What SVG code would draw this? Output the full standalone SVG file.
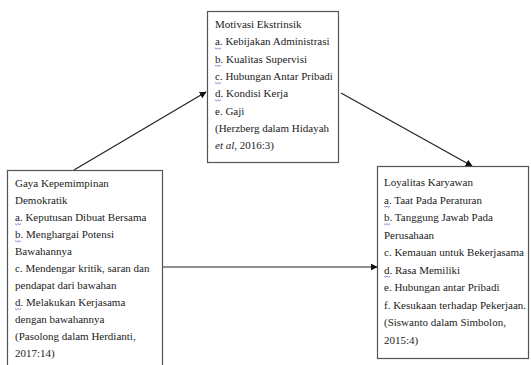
<svg xmlns="http://www.w3.org/2000/svg" width="531" height="365" viewBox="0 0 531 365">
<style>
.box{fill:#fff;stroke:#555;stroke-width:1.2}
.t{font-family:"Liberation Serif","Times New Roman",serif;font-size:11px;fill:#222}
.sq{fill:none;stroke:#6a6ac0;stroke-width:0.8}
.con{stroke:#222;stroke-width:1.2;fill:none}
</style>
<defs>
<marker id="ah" viewBox="0 0 10 10" refX="9" refY="5" markerWidth="7" markerHeight="7" orient="auto" markerUnits="userSpaceOnUse">
<path d="M0,0 L10,5 L0,10 z" fill="#111"/>
</marker>
</defs>
<rect width="531" height="365" fill="#fff"/>
<g id="connectors">
<line class="con" x1="74" y1="170" x2="206" y2="92" marker-end="url(#ah)"/>
<line class="con" x1="341" y1="93" x2="472" y2="166" marker-end="url(#ah)"/>
<line class="con" x1="163" y1="267" x2="377" y2="267" marker-end="url(#ah)"/>
</g>
<g id="motivasi">
<rect class="box" x="207.5" y="11.5" width="131" height="151"/>
<text class="t" x="215" y="28">Motivasi Ekstrinsik</text>
<text class="t" x="215" y="45.3">a. Kebijakan Administrasi</text>
<text class="t" x="215" y="62.6">b. Kualitas Supervisi</text>
<text class="t" x="215" y="79.9">c. Hubungan Antar Pribadi</text>
<text class="t" x="215" y="97.2">d. Kondisi Kerja</text>
<text class="t" x="215" y="114.5">e. Gaji</text>
<text class="t" x="215" y="131.8">(Herzberg dalam Hidayah</text>
<text class="t" x="215" y="149.1"><tspan font-style="italic">et al</tspan>, 2016:3)</text>
<path class="sq" d="M215,48 l1.5,1 l1.5,-1 l1.5,1 l1.5,-1 M215,65.3 l1.5,1 l1.5,-1 l1.5,1 l1.5,-1 M215,82.6 l1.5,1 l1.5,-1 l1.5,1 l1.5,-1 M215,99.9 l1.5,1 l1.5,-1 l1.5,1 l1.5,-1"/>
</g>
<g id="gaya">
<rect class="box" x="7.5" y="170.5" width="155" height="200"/>
<text class="t" x="15" y="187">Gaya Kepemimpinan</text>
<text class="t" x="15" y="204">Demokratik</text>
<text class="t" x="15" y="221">a. Keputusan Dibuat Bersama</text>
<text class="t" x="15" y="238">b. Menghargai Potensi</text>
<text class="t" x="15" y="255">Bawahannya</text>
<text class="t" x="15" y="272">c. Mendengar kritik, saran dan</text>
<text class="t" x="15" y="289">pendapat dari bawahan</text>
<text class="t" x="15" y="306">d. Melakukan Kerjasama</text>
<text class="t" x="15" y="323">dengan bawahannya</text>
<text class="t" x="15" y="340">(Pasolong dalam Herdianti,</text>
<text class="t" x="15" y="357">2017:14)</text>
<path class="sq" d="M15,223.7 l1.5,1 l1.5,-1 l1.5,1 l1.5,-1 M15,240.7 l1.5,1 l1.5,-1 l1.5,1 l1.5,-1 M15,308.7 l1.5,1 l1.5,-1 l1.5,1 l1.5,-1"/>
</g>
<g id="loyalitas">
<rect class="box" x="377.5" y="166.5" width="151" height="192"/>
<text class="t" x="384" y="186">Loyalitas Karyawan</text>
<text class="t" x="384" y="203.5">a. Taat Pada Peraturan</text>
<text class="t" x="384" y="221">b. Tanggung Jawab Pada</text>
<text class="t" x="384" y="238.5">Perusahaan</text>
<text class="t" x="384" y="256">c. Kemauan untuk Bekerjasama</text>
<text class="t" x="384" y="273.5">d. Rasa Memiliki</text>
<text class="t" x="384" y="291">e. Hubungan antar Pribadi</text>
<text class="t" x="384" y="308.5">f. Kesukaan terhadap Pekerjaan.</text>
<text class="t" x="384" y="326">(Siswanto dalam Simbolon,</text>
<text class="t" x="384" y="343.5">2015:4)</text>
<path class="sq" d="M384,206.2 l1.5,1 l1.5,-1 l1.5,1 l1.5,-1 M384,223.7 l1.5,1 l1.5,-1 l1.5,1 l1.5,-1 M384,276.2 l1.5,1 l1.5,-1 l1.5,1 l1.5,-1"/>
</g>
</svg>
